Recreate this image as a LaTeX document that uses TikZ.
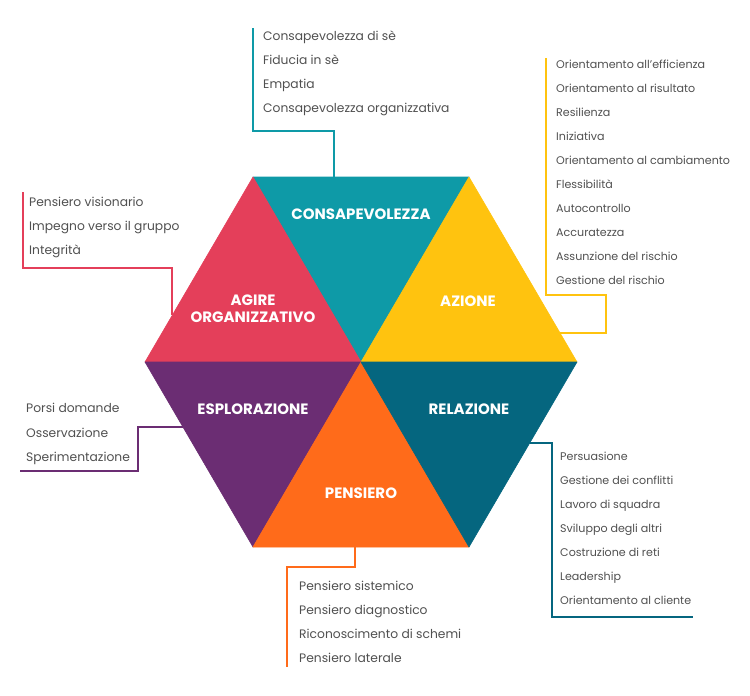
\documentclass[tikz,border=0pt]{standalone}
\usepackage{fontspec}
\setmainfont{Poppins}
\definecolor{cteal}{HTML}{0E9AA7}
\definecolor{cred}{HTML}{E43F5A}
\definecolor{cyel}{HTML}{FFC30F}
\definecolor{cpur}{HTML}{6B2D73}
\definecolor{cora}{HTML}{FF6B1A}
\definecolor{cdte}{HTML}{05667F}
\definecolor{txtgray}{HTML}{505050}
\tikzset{
  item/.style={anchor=base west, font=\fontsize{12.3}{14}\selectfont, text=txtgray, inner sep=0pt},
  itemS/.style={item, font=\fontsize{11.1}{13}\selectfont},
  lab/.style={font=\fontsize{15}{17}\selectfont\bfseries, text=white, align=center, inner sep=0pt},
  conn/.style={line width=1.8pt, line join=miter},
  tri/.style={line width=0.6pt, line join=round}
}
\begin{document}
\begin{tikzpicture}[x=1pt,y=-1pt]
\useasboundingbox (0,0) rectangle (750,696);
% hexagon vertices
\coordinate (C) at (361,362);
\coordinate (L) at (145,362);
\coordinate (TL) at (253,177);
\coordinate (TR) at (469,177);
\coordinate (R) at (577,362);
\coordinate (BR) at (469,547);
\coordinate (BL) at (253,547);
% connector points
\coordinate (tS) at (253,28);  \coordinate (tE) at (334,177);
\coordinate (yS) at (546,58);  \coordinate (yE) at (560,333);
\coordinate (rS) at (23,192);  \coordinate (rE) at (172,315);
\coordinate (pS) at (20,471);  \coordinate (pE) at (183,427);
\coordinate (dS) at (530,443); \coordinate (dE) at (693,617);
\coordinate (oS) at (355,547); \coordinate (oE) at (287,667);
% connectors
\draw[conn, cteal] (tS) |- (334,131) -- (tE);
\draw[conn, cyel] (yS) |- (606,295) |- (yE);
\draw[conn, cred] (rS) |- (172,268) -- (rE);
\draw[conn, cpur] (pS) -| (138,427) -- (pE);
\draw[conn, cdte] (dS) -| (552,617) -- (dE);
\draw[conn, cora] (oS) |- (287,567) -- (oE);
% triangles
\filldraw[tri, fill=cteal, draw=cteal] (C) -- (TL) -- (TR) -- cycle;
\filldraw[tri, fill=cred, draw=cred] (C) -- (L) -- (TL) -- cycle;
\filldraw[tri, fill=cyel, draw=cyel] (C) -- (TR) -- (R) -- cycle;
\filldraw[tri, fill=cpur, draw=cpur] (C) -- (L) -- (BL) -- cycle;
\filldraw[tri, fill=cora, draw=cora] (C) -- (BL) -- (BR) -- cycle;
\filldraw[tri, fill=cdte, draw=cdte] (C) -- (R) -- (BR) -- cycle;
% labels
\node[lab] (lcons) at (361,214) {CONSAPEVOLEZZA};
\node[lab] (lagire) at (253,309) {AGIRE\\ORGANIZZATIVO};
\node[lab] (lazione) at (468,301) {AZIONE};
\node[lab] (lesplo) at (253,409) {ESPLORAZIONE};
\node[lab] (lrel) at (469,409) {RELAZIONE};
\node[lab] (lpens) at (361,493) {PENSIERO};
% lists
\foreach \t [count=\k from 0] in {Consapevolezza di sè, Fiducia in sè, Empatia, Consapevolezza organizzativa}
  \node[item] (t\k) at (263,{40.5+24*\k}) {\t};
\foreach \t [count=\k from 0] in {Orientamento all’efficienza, Orientamento al risultato, Resilienza, Iniziativa, Orientamento al cambiamento, Flessibilità, Autocontrollo, Accuratezza, Assunzione del rischio, Gestione del rischio}
  \node[itemS] (y\k) at (556,{68+24*\k}) {\t};
\foreach \t [count=\k from 0] in {Pensiero visionario, Impegno verso il gruppo, Integrità}
  \node[item] (r\k) at (29,{206.5+24*\k}) {\t};
\foreach \t [count=\k from 0] in {Porsi domande, Osservazione, Sperimentazione}
  \node[item] (p\k) at (26,{412.5+24.5*\k}) {\t};
\foreach \t [count=\k from 0] in {Persuasione, Gestione dei conflitti, Lavoro di squadra, Sviluppo degli altri, Costruzione di reti, Leadership, Orientamento al cliente}
  \node[itemS] (d\k) at (560,{460+24*\k}) {\t};
\foreach \t [count=\k from 0] in {Pensiero sistemico, Pensiero diagnostico, Riconoscimento di schemi, Pensiero laterale}
  \node[item] (o\k) at (299,{590.5+24*\k}) {\t};
\end{tikzpicture}
\end{document}
